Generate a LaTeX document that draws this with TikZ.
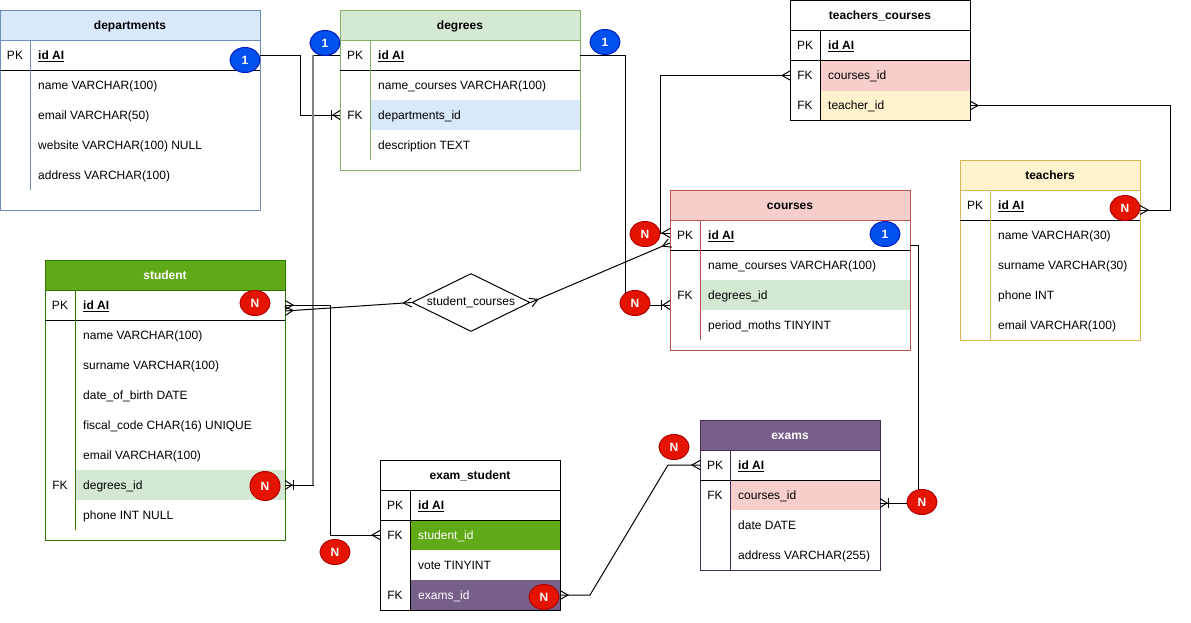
\documentclass[tikz,border=0pt]{standalone}
\usepackage{fontspec}
\setmainfont{Liberation Sans}
\usetikzlibrary{calc,shapes.geometric}
\definecolor{bluef}{HTML}{DAE8FC}\definecolor{blues}{HTML}{6C8EBF}
\definecolor{greenf}{HTML}{D5E8D4}\definecolor{greens}{HTML}{82B366}
\definecolor{redf}{HTML}{F8CECC}\definecolor{reds}{HTML}{B85450}
\definecolor{yellowf}{HTML}{FFF2CC}\definecolor{yellows}{HTML}{D6B656}
\definecolor{dgreenf}{HTML}{60A917}\definecolor{dgreens}{HTML}{2D7600}
\definecolor{purplef}{HTML}{76608A}\definecolor{purples}{HTML}{432D57}
\definecolor{badgeblue}{HTML}{0050EF}\definecolor{badgebluestroke}{HTML}{001DBC}
\definecolor{badgered}{HTML}{E51400}\definecolor{badgeredstroke}{HTML}{B20000}
\newcommand\erfont{\fontsize{12}{14}\selectfont}
\tikzset{
  rowbox/.style={anchor=north west, minimum height=30, inner sep=0, outer sep=0, draw=none},
  keytxt/.style={inner sep=0, anchor=center, text height=8.6pt, text depth=0pt},
  fldtxt/.style={inner sep=0, anchor=west, text height=8.6pt, text depth=0pt},
  hdr/.style={anchor=north west, minimum height=30, inner sep=0, outer sep=0, line width=1pt, font=\erfont\bfseries, text height=8.6pt, text depth=0pt},
  tblbox/.style={anchor=north west, inner sep=0, outer sep=0, fill=none, line width=1pt},
  conn/.style={draw=black, line width=1pt},
  grayline/.style={draw=black!50, line width=1.8pt},
  badgeB/.style={ellipse, fill=badgeblue, draw=badgebluestroke, line width=1pt, text=white, font=\erfont\bfseries, minimum width=30, minimum height=25, inner sep=0},
  badgeR/.style={ellipse, fill=badgered, draw=badgeredstroke, line width=1pt, text=white, font=\erfont\bfseries, minimum width=30, minimum height=25, inner sep=0},
  relbox/.style={diamond, draw=black, line width=1pt, aspect=2, inner sep=0, minimum width=118, minimum height=58, font=\erfont}
}
% row: name, x, y, w, fill, key, field, text colour
\newcommand\erow[8]{%
  \path[fill=#5] ({#2+30},{#3}) rectangle ({#2+#4},{#3+30});
  \node[rowbox, minimum width={#4}] (#1) at (#2,#3) {};
  \node[keytxt] at ({#2+15},{#3+15}) {#6};
  \node[fldtxt, text=#8] at ({#2+38},{#3+15}) {#7};
}
% header: name, x, y, w, fill, stroke, text colour, title
\newcommand\erhead[8]{%
  \node[hdr, fill=#5, draw=#6, text=#7, minimum width={#4}] (#1) at (#2,#3) {#8};
}
% frame: name, x, y, w, h, stroke, number of rows
\newcommand\erframe[7]{%
  \node[tblbox, draw=#6, minimum width={#4}, minimum height={#5}] (#1) at (#2,#3) {};
  \draw[black, line width=1pt] (#2,{#3+60}) -- ({#2+#4},{#3+60});
  \draw[#6, line width=1pt] ({#2+30},{#3+30}) -- ({#2+30},{#3+30+30*#7});
}
\newcommand\pkid{\underline{\textbf{id AI}}}
% crow's foot: point on entity, point along the line
\newcommand\crow[2]{%
  \draw[conn] ($(#1)!4.5pt!90:(#2)$) -- ($(#1)!8pt!(#2)$) -- ($(#1)!4.5pt!-90:(#2)$);
}
\newcommand\crowbar[2]{%
  \draw[conn] ($(#1)!4.5pt!90:(#2)$) -- ($(#1)!7pt!(#2)$) -- ($(#1)!4.5pt!-90:(#2)$);
  \path ($(#1)!8.5pt!(#2)$) coordinate (cbq);
  \draw[conn] ($(cbq)!5pt!90:(#2)$) -- ($(cbq)!5pt!-90:(#2)$);
}
\begin{document}
\begin{tikzpicture}[x=1pt,y=-1pt,font=\erfont]
\useasboundingbox[fill=white] (0,0) rectangle (1191,622);

% departments
\erow{dept-pk}{0}{40}{260}{none}{PK}{\pkid}{black}
\erow{dept-name}{0}{70}{260}{none}{}{name VARCHAR(100)}{black}
\erow{dept-email}{0}{100}{260}{none}{}{email VARCHAR(50)}{black}
\erow{dept-web}{0}{130}{260}{none}{}{website VARCHAR(100) NULL}{black}
\erow{dept-addr}{0}{160}{260}{none}{}{address VARCHAR(100)}{black}
\erhead{dept-h}{0}{10}{260}{bluef}{blues}{black}{departments}
\erframe{dept}{0}{10}{260}{200}{blues}{5}

% degrees
\erow{deg-pk}{340}{40}{240}{none}{PK}{\pkid}{black}
\erow{deg-name}{340}{70}{240}{none}{}{name\_courses VARCHAR(100)}{black}
\erow{deg-dep}{340}{100}{240}{bluef}{FK}{departments\_id}{black}
\erow{deg-desc}{340}{130}{240}{none}{}{description TEXT}{black}
\erhead{deg-h}{340}{10}{240}{greenf}{greens}{black}{degrees}
\erframe{deg}{340}{10}{240}{160}{greens}{4}

% teachers_courses
\erow{tc-pk}{790}{30.5}{180}{none}{PK}{\pkid}{black}
\erow{tc-cid}{790}{60.5}{180}{redf}{FK}{courses\_id}{black}
\erow{tc-tid}{790}{90.5}{180}{yellowf}{FK}{teacher\_id}{black}
\erhead{tc-h}{790}{0.5}{180}{white}{black}{black}{teachers\_courses}
\erframe{tc}{790}{0.5}{180}{120}{black}{3}

% teachers
\erow{tch-pk}{960}{190}{180}{none}{PK}{\pkid}{black}
\erow{tch-name}{960}{220}{180}{none}{}{name VARCHAR(30)}{black}
\erow{tch-surname}{960}{250}{180}{none}{}{surname VARCHAR(30)}{black}
\erow{tch-phone}{960}{280}{180}{none}{}{phone INT}{black}
\erow{tch-email}{960}{310}{180}{none}{}{email VARCHAR(100)}{black}
\erhead{tch-h}{960}{160}{180}{yellowf}{yellows}{black}{teachers}
\erframe{tch}{960}{160}{180}{180}{yellows}{5}

% courses
\erow{crs-pk}{670}{220}{240}{none}{PK}{\pkid}{black}
\erow{crs-name}{670}{250}{240}{none}{}{name\_courses VARCHAR(100)}{black}
\erow{crs-deg}{670}{280}{240}{greenf}{FK}{degrees\_id}{black}
\erow{crs-period}{670}{310}{240}{none}{}{period\_moths TINYINT}{black}
\erhead{crs-h}{670}{190}{240}{redf}{reds}{black}{courses}
\erframe{crs}{670}{190}{240}{160}{reds}{4}

% student
\erow{stu-pk}{45}{290}{240}{none}{PK}{\pkid}{black}
\erow{stu-name}{45}{320}{240}{none}{}{name VARCHAR(100)}{black}
\erow{stu-surname}{45}{350}{240}{none}{}{surname VARCHAR(100)}{black}
\erow{stu-dob}{45}{380}{240}{none}{}{date\_of\_birth DATE}{black}
\erow{stu-fiscal}{45}{410}{240}{none}{}{fiscal\_code CHAR(16) UNIQUE}{black}
\erow{stu-email}{45}{440}{240}{none}{}{email VARCHAR(100)}{black}
\erow{stu-deg}{45}{470}{240}{greenf}{FK}{degrees\_id}{black}
\erow{stu-phone}{45}{500}{240}{none}{}{phone INT NULL}{black}
\erhead{stu-h}{45}{260}{240}{dgreenf}{dgreens}{white}{student}
\erframe{stu}{45}{260}{240}{280}{dgreens}{8}

% exam_student
\erow{es-pk}{380}{490}{180}{none}{PK}{\pkid}{black}
\erow{es-sid}{380}{520}{180}{dgreenf}{FK}{student\_id}{white}
\erow{es-vote}{380}{550}{180}{none}{}{vote TINYINT}{black}
\erow{es-eid}{380}{580}{180}{purplef}{FK}{exams\_id}{white}
\erhead{es-h}{380}{460}{180}{white}{black}{black}{exam\_student}
\erframe{es}{380}{460}{180}{150}{black}{4}

% exams
\erow{ex-pk}{700}{450}{180}{none}{PK}{\pkid}{black}
\erow{ex-cid}{700}{480}{180}{redf}{FK}{courses\_id}{black}
\erow{ex-date}{700}{510}{180}{none}{}{date DATE}{black}
\erow{ex-addr}{700}{540}{180}{none}{}{address VARCHAR(255)}{black}
\erhead{ex-h}{700}{420}{180}{purplef}{purples}{white}{exams}
\erframe{ex}{700}{420}{180}{150}{purples}{4}

% relationship
\node[relbox] (sc) at (471,302.5) {student\_courses};

% connectors
\draw[conn] (dept-pk.east) -- ++(40,0) |- (deg-dep.west);
\crowbar{deg-dep.west}{300,115}

\draw[conn] (deg-pk.west) -- ++(-27,0) coordinate (c2) |- (stu-deg.east);
\draw[grayline] (c2) -- (c2 |- stu-deg.east);
\crowbar{stu-deg.east}{313,485}

\coordinate (e3) at ([yshift=-10pt]crs-deg.west);
\draw[conn] (deg-pk.east) -- ++(45,0) |- (e3);
\crowbar{e3}{625,305}

\coordinate (e4) at ([yshift=2pt]crs-pk.west);
\draw[conn] (tc-cid.west) -- ++(-130,0) |- (e4);
\crow{tc-cid.west}{700,75.5}
\crow{e4}{640,233}

\coordinate (e5) at ([yshift=-5pt]tch-pk.east);
\draw[conn] (tc-tid.east) -- ++(200,0) |- (e5);
\crow{tc-tid.east}{1000,105.5}
\crow{e5}{1170,210}

\draw[conn] (stu-pk.east) -- ++(45,0) |- (es-sid.west);
\crow{stu-pk.east}{330,305}
\crow{es-sid.west}{330,535}

\coordinate (e7) at ([yshift=-6pt]stu-pk.east);
\draw[conn] (e7) -- (sc.west);
\crow{e7}{sc.west}
\crow{sc.west}{e7}

\coordinate (e8) at ([yshift=-8pt]crs-pk.west);
\draw[conn] (sc.east) -- (e8);
\crow{sc.east}{e8}
\crow{e8}{sc.east}

\draw[conn] (es-eid.east) -- ++(30,0) -- ([xshift=-32pt]ex-pk.west) -- (ex-pk.west);
\crow{es-eid.east}{590,595}
\crow{ex-pk.west}{668,465}

\coordinate (e10a) at ([yshift=-10pt]crs-pk.east);
\coordinate (e10b) at ([yshift=-8pt]ex-cid.east);
\draw[conn] (e10a) -- ++(8,0) |- (e10b);
\crowbar{e10b}{917,503}

% badges
\node[badgeB] (b1) at (245,60) {1};
\node[badgeB] (b2) at (325,43) {1};
\node[badgeB] (b3) at (605,42) {1};
\node[badgeB] (b4) at (885,234) {1};
\node[badgeR] (n1) at (1125,208) {N};
\node[badgeR] (n2) at (645,234) {N};
\node[badgeR] (n3) at (635,303) {N};
\node[badgeR] (n4) at (255,303) {N};
\node[badgeR, minimum height=29] (n5) at (265,486) {N};
\node[badgeR] (n6) at (335,552) {N};
\node[badgeR] (n7) at (544,597) {N};
\node[badgeR] (n8) at (674,447) {N};
\node[badgeR] (n9) at (922,502) {N};
\end{tikzpicture}
\end{document}
